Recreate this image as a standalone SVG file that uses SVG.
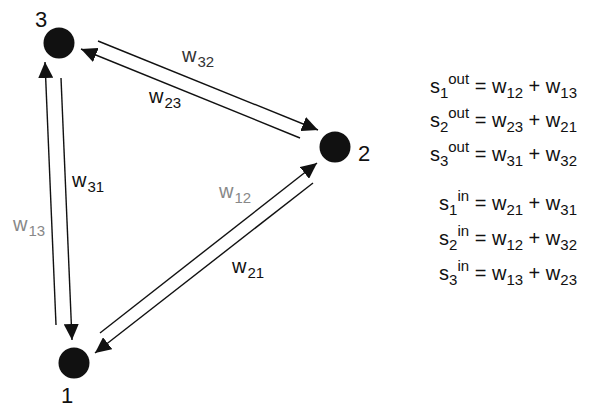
<svg xmlns="http://www.w3.org/2000/svg" width="592" height="408" viewBox="0 0 592 408">
<style>
.node{fill:#111}
.nl{font-family:"Liberation Sans",Arial,sans-serif;font-size:22px;fill:#111}
.lab{font-family:"Liberation Sans",Arial,sans-serif;font-size:20px;fill:#111}
.grey{fill:#888}
.dk{fill:#333}
.sub{font-size:15px}
.eq{font-family:"Liberation Sans",Arial,sans-serif;font-size:20px;fill:#111;text-anchor:end}
.edge{stroke:#111;stroke-width:1.4;fill:none;marker-end:url(#ah)}
</style>
<defs>
<marker id="ah" markerUnits="userSpaceOnUse" markerWidth="17" markerHeight="15" refX="16" refY="7.5" orient="auto">
<path d="M0,0 L16,7.5 L0,15 z" fill="#111"/>
</marker>
</defs>
<g id="connectors">
<line class="edge" x1="98" y1="41" x2="318" y2="130"/>
<line class="edge" x1="300" y1="138" x2="81" y2="49"/>
<line class="edge" x1="56" y1="325" x2="45" y2="62"/>
<line class="edge" x1="61" y1="78" x2="72" y2="340"/>
<line class="edge" x1="100" y1="333" x2="317" y2="163"/>
<line class="edge" x1="313" y1="183" x2="95" y2="353"/>
<text class="lab dk" x="182" y="62">w<tspan class="sub" dx="1" dy="5">32</tspan></text>
<text class="lab" x="149" y="103">w<tspan class="sub" dx="1" dy="5">23</tspan></text>
<text class="lab" x="72" y="187">w<tspan class="sub" dx="1" dy="5">31</tspan></text>
<text class="lab grey" x="13" y="231">w<tspan class="sub" dx="1" dy="5">13</tspan></text>
<text class="lab grey" x="219" y="198">w<tspan class="sub" dx="1" dy="5">12</tspan></text>
<text class="lab" x="232" y="273">w<tspan class="sub" dx="1" dy="5">21</tspan></text>
</g>
<g id="node1">
<circle class="node" cx="74" cy="363" r="15.5"/>
<text class="nl" x="67" y="403" text-anchor="middle">1</text>
</g>
<g id="node2">
<circle class="node" cx="335" cy="147" r="15.5"/>
<text class="nl" x="364" y="161" text-anchor="middle">2</text>
</g>
<g id="node3">
<circle class="node" cx="59" cy="43" r="15.5"/>
<text class="nl" x="41" y="27" text-anchor="middle">3</text>
</g>
<g id="equations">
<text class="eq" x="577" y="93">s<tspan class="sub" dy="5">1</tspan><tspan class="sub" dy="-14">out</tspan><tspan dy="9"> = w</tspan><tspan class="sub" dy="5">12</tspan><tspan dy="-5"> + w</tspan><tspan class="sub" dy="5">13</tspan></text>
<text class="eq" x="577" y="127">s<tspan class="sub" dy="5">2</tspan><tspan class="sub" dy="-14">out</tspan><tspan dy="9"> = w</tspan><tspan class="sub" dy="5">23</tspan><tspan dy="-5"> + w</tspan><tspan class="sub" dy="5">21</tspan></text>
<text class="eq" x="577" y="161">s<tspan class="sub" dy="5">3</tspan><tspan class="sub" dy="-14">out</tspan><tspan dy="9"> = w</tspan><tspan class="sub" dy="5">31</tspan><tspan dy="-5"> + w</tspan><tspan class="sub" dy="5">32</tspan></text>
<text class="eq" x="577" y="210">s<tspan class="sub" dy="5">1</tspan><tspan class="sub" dy="-14">in</tspan><tspan dy="9"> = w</tspan><tspan class="sub" dy="5">21</tspan><tspan dy="-5"> + w</tspan><tspan class="sub" dy="5">31</tspan></text>
<text class="eq" x="577" y="245">s<tspan class="sub" dy="5">2</tspan><tspan class="sub" dy="-14">in</tspan><tspan dy="9"> = w</tspan><tspan class="sub" dy="5">12</tspan><tspan dy="-5"> + w</tspan><tspan class="sub" dy="5">32</tspan></text>
<text class="eq" x="577" y="280">s<tspan class="sub" dy="5">3</tspan><tspan class="sub" dy="-14">in</tspan><tspan dy="9"> = w</tspan><tspan class="sub" dy="5">13</tspan><tspan dy="-5"> + w</tspan><tspan class="sub" dy="5">23</tspan></text>
</g>
</svg>
